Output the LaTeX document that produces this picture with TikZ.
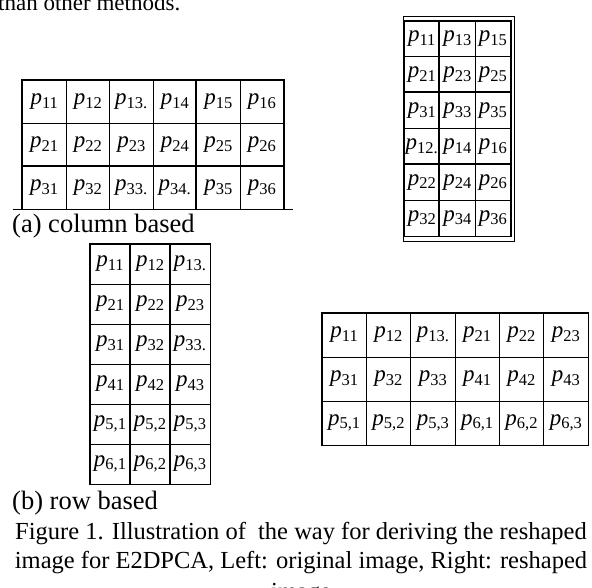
\documentclass[tikz,border=0pt]{standalone}
\usepackage{fontspec}
\setmainfont{Liberation Serif}
\usetikzlibrary{positioning}

% one pixel label, p with its index
\newcommand{\pix}[1]{\textit{p}\raisebox{-0.35ex}{\fontsize{16.5}{16.5}\selectfont #1}}
% name, x0, y0, cell width, cell height, columns, labels
\newcommand{\celltable}[7]{%
  \foreach \lab [count=\i from 0] in {#7}{
    \pgfmathtruncatemacro\rw{div(\i,#6)}
    \pgfmathtruncatemacro\cl{mod(\i,#6)}
    \node[cell, minimum width=#4pt, minimum height=#5pt] (#1-\rw-\cl)
      at ({#2+(\cl+0.5)*#4},{#3+(\rw+0.5)*#5}) {\pix{\lab}};
  }}

\tikzset{
  cell/.style={draw, line width=0.9pt, inner sep=0pt, font=\fontsize{23}{23}\selectfont},
  heavy/.style={line width=1.8pt},
  caption/.style={inner sep=0pt, anchor=base west, font=\fontsize{24.5}{29}\selectfont},
  sublabel/.style={caption, font=\fontsize{26.5}{29}\selectfont}
}

\begin{document}
\begin{tikzpicture}[x=1pt, y=-1pt]
  \useasboundingbox (0,0) rectangle (592,588);
  \clip (0,0) rectangle (592,588);

  % (a) column based, original and reshaped
  \celltable{a}{22.5}{80}{43.5}{43}{6}{11,12,13.,14,15,16,21,22,23,24,25,26,31,32,33.,34.,35,36}
  \draw[heavy] (a-0-0.north west) rectangle (a-2-5.south east);
  \draw[heavy] (a-0-4.north west) -- (a-2-4.south west);
  \draw[heavy] (a-2-0.north west) -- (a-2-5.north east);
  \draw[line width=0.9pt] ([xshift=-9.5pt]a-2-0.south west) -- ([xshift=9.5pt]a-2-5.south east);

  \celltable{ra}{404}{21}{35.5}{35.83}{3}{11,13,15,21,23,25,31,33,35,12.,14,16,22,24,26,32,34,36}
  \draw[heavy] (ra-0-0.north west) rectangle (ra-5-2.south east);
  \draw[heavy] (ra-0-1.north west) -- (ra-5-1.south west);
  \draw[heavy] (ra-2-0.north west) -- (ra-2-2.north east);
  \draw[heavy] (ra-4-0.north west) -- (ra-4-2.north east);
  \draw[line width=0.9pt] ([yshift=4pt]ra-0-0.north west) rectangle ([xshift=3pt,yshift=-5pt]ra-5-2.south east);

  % (b) row based, original and reshaped
  \celltable{b}{90}{244}{40}{40}{3}{11,12,13.,21,22,23,31,32,33.,41,42,43,{5,1},{5,2},{5,3},{6,1},{6,2},{6,3}}
  \draw[heavy] (b-0-0.north west) rectangle (b-5-2.south east);
  \draw[heavy] (b-0-1.north west) -- (b-5-1.south west);
  \draw[heavy] (b-0-2.north west) -- (b-5-2.south west);

  \celltable{rb}{322}{313}{44.33}{44}{6}{11,12,13.,21,22,23,31,32,33,41,42,43,{5,1},{5,2},{5,3},{6,1},{6,2},{6,3}}
  \draw[heavy] (rb-0-0.north west) rectangle (rb-2-5.south east);

  % texts
  \node[caption, font=\fontsize{23}{29}\selectfont] (prev) at (-2,11) {than other methods.};
  \node[sublabel] (capa) at (12,233) {(a) column based};
  \node[sublabel] (capb) at (12,509) {(b) row based};
  \node[caption, anchor=base] (fig1) at (301,539) {Figure 1. Illustration of\ \ the way for deriving the reshaped};
  \node[caption, anchor=base] (fig2) at (301,568) {image for E2DPCA, Left: original image, Right: reshaped};
  \node[caption, anchor=base] (fig3) at (301,599) {image};
\end{tikzpicture}
\end{document}
